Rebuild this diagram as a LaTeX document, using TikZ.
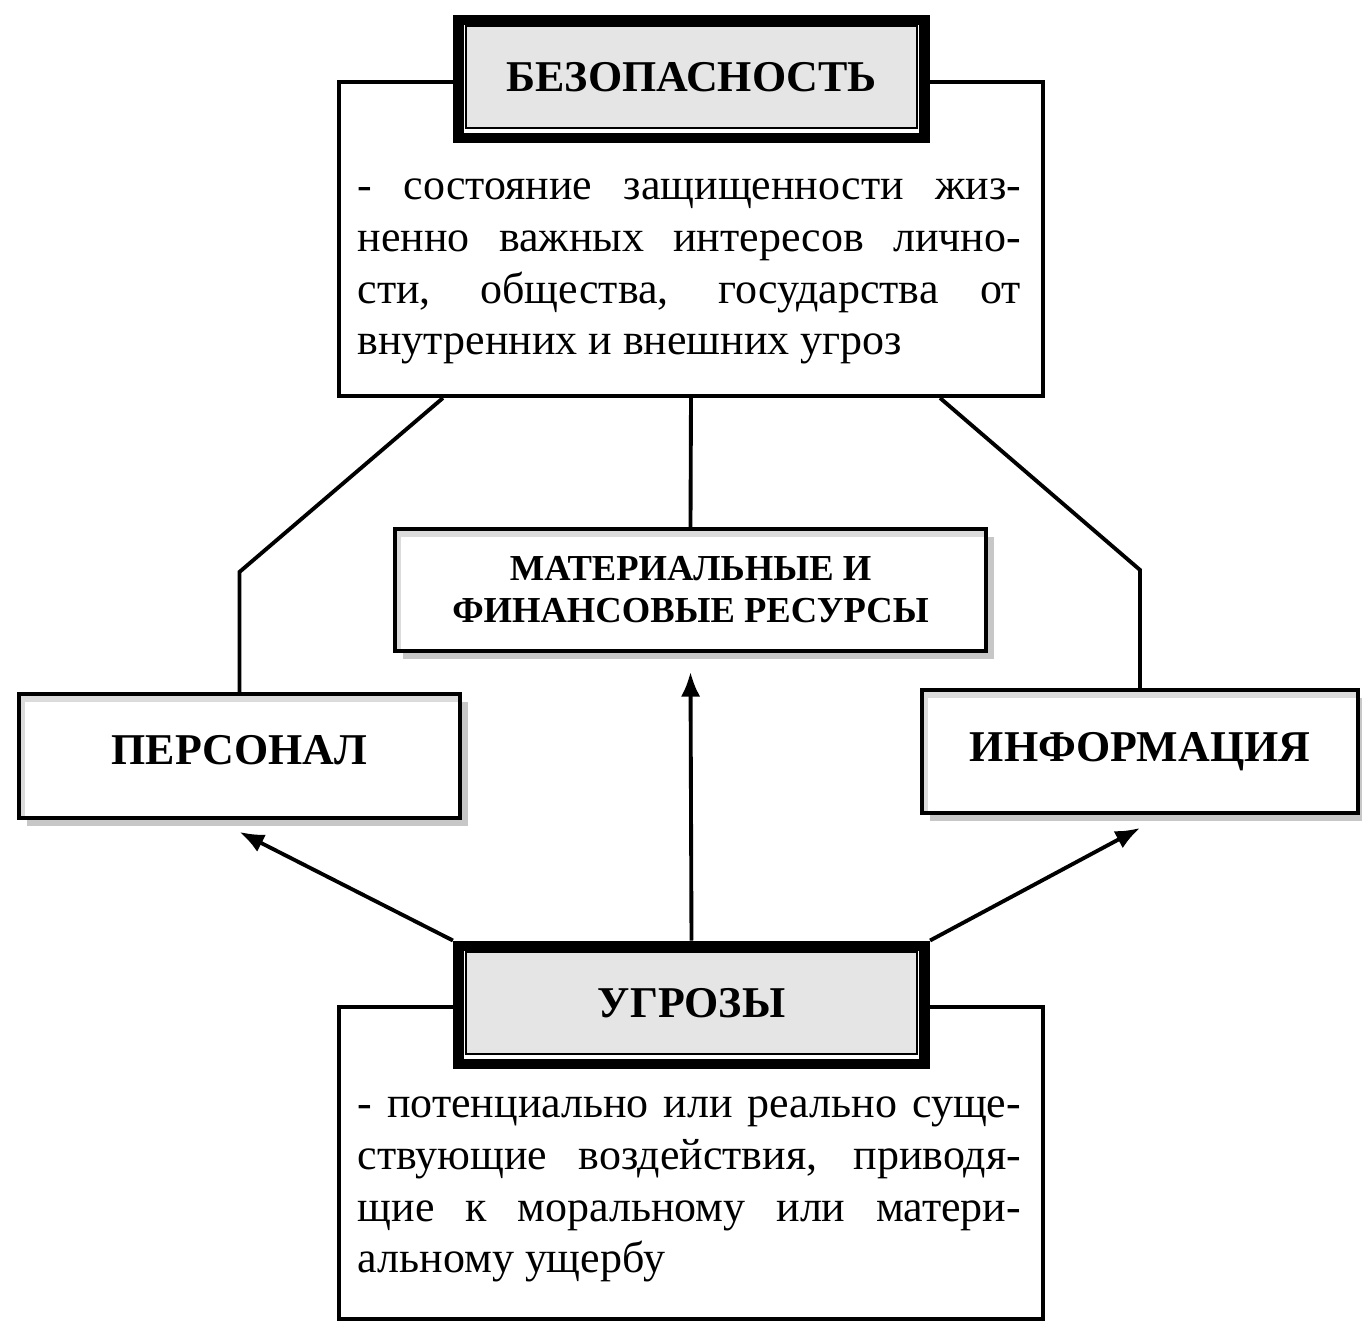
\documentclass[tikz,border=0pt]{standalone}
\usepackage{fontspec}
\setmainfont{Liberation Serif}
\usetikzlibrary{arrows.meta,shadows}

\begin{document}
\begin{tikzpicture}[x=0.01cm, y=-0.01cm,
  descbox/.style={draw, line width=1.1pt, fill=white, inner sep=0pt},
  frame/.style={draw, line width=3.1pt, fill=white, minimum width=4.66cm, minimum height=1.18cm},
  titlebox/.style={draw, line width=0.6pt, fill=black!10, minimum width=4.51cm,
    minimum height=1.02cm, font=\fontsize{12.5}{15}\selectfont\bfseries},
  itembox/.style={draw, line width=1.1pt, fill=white,
    drop shadow={shadow xshift=0.8mm, shadow yshift=-0.8mm, fill=black!22, opacity=1},
    path picture={\fill[black!14] (path picture bounding box.north west)
      rectangle ([yshift=-0.8mm]path picture bounding box.north east);
      \fill[black!14] (path picture bounding box.north west)
      rectangle ([xshift=0.6mm]path picture bounding box.south west);}},
  desctext/.style={anchor=base west, inner sep=0pt, align=left,
    font=\fontsize{12.5}{14.7}\selectfont},
  link/.style={line width=1.1pt},
  arrow/.style={line width=1.1pt, -{Latex[length=7pt,width=5.5pt]}}]
  \useasboundingbox (0,0) rectangle (1362,1322);

  % description boxes
  \node[descbox, minimum width=7.04cm, minimum height=3.14cm] (sec) at (691,239) {};
  \node[desctext] (secD) at (357,355) {%
    \makebox[6.63cm][s]{- состояние защищенности жиз-}\\
    \makebox[6.63cm][s]{ненно важных интересов лично-}\\
    \makebox[6.63cm][s]{сти, общества, государства от}\\
    внутренних и внешних угроз};
  \node[descbox, minimum width=7.04cm, minimum height=3.12cm] (thr) at (691,1163) {};
  \node[desctext] (thrD) at (357,1273) {%
    \makebox[6.63cm][s]{- потенциально или реально суще-}\\
    \makebox[6.63cm][s]{ствующие воздействия, приводя-}\\
    \makebox[6.63cm][s]{щие к моральному или матери-}\\
    альному ущербу};

  % title frames
  \node[frame] (secF) at (691.5,79) {};
  \node[titlebox] (secT) at (691.5,77) {БЕЗОПАСНОСТЬ};
  \node[frame] (ugrF) at (691.5,1005) {};
  \node[titlebox] (ugr) at (691.5,1003) {УГРОЗЫ};

  % objects
  \node[itembox, minimum width=5.91cm, minimum height=1.22cm, align=center,
    font=\fontsize{10.4}{12}\selectfont\bfseries] (mat) at (690.5,590)
    {МАТЕРИАЛЬНЫЕ И\\ФИНАНСОВЫЕ РЕСУРСЫ};
  \node[itembox, minimum width=4.41cm, minimum height=1.24cm,
    font=\fontsize{12.5}{15}\selectfont\bfseries, text depth=1.2mm] (pers) at (239.5,756) {ПЕРСОНАЛ};
  \node[itembox, minimum width=4.36cm, minimum height=1.23cm,
    font=\fontsize{12.5}{15}\selectfont\bfseries] (inf) at (1140,751.5) {ИНФОРМАЦИЯ};

  % links from the definition
  \draw[link] ([xshift=1.06cm]sec.south west) -- ([yshift=1.2cm]pers.north) -- (pers.north);
  \draw[link] (sec.south) -- (mat.north);
  \draw[link] ([xshift=-1.05cm]sec.south east) -- ([yshift=1.18cm]inf.north) -- (inf.north);

  % threats act on the objects
  \draw[arrow] (ugrF.north west) -- ([yshift=-1.2mm]pers.south);
  \draw[arrow] (ugrF.north) -- ([yshift=-1.9mm]mat.south);
  \draw[arrow] (ugrF.north east) -- ([yshift=-1.3mm]inf.south);
\end{tikzpicture}
\end{document}
